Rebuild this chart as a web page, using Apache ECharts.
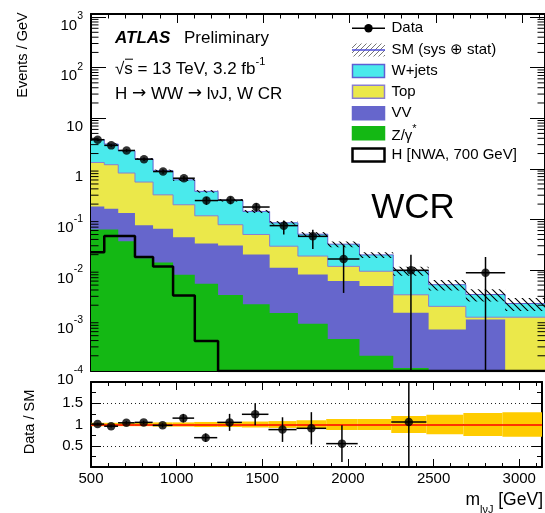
<!DOCTYPE html>
<html><head><meta charset="utf-8">
<script src="https://cdn.jsdelivr.net/npm/echarts@6/dist/echarts.min.js"></script>
<style>html,body{margin:0;padding:0;background:#fff;}#chart{width:545px;height:513px;}</style>
</head><body><div id="chart"></div>
<script>
// ---------------- data ----------------
const binEdges = [500, 577, 658, 755, 860, 976, 1102, 1237, 1381, 1536, 1700, 1873, 2057, 2253, 2458, 2674, 2902, 3160];
const wjets   = [2.41, 1.88, 1.45, 1.01, 0.61, 0.41, 0.24, 0.16, 0.093, 0.056, 0.032, 0.0205, 0.0104, 0.0064, 0.0032, 0.0021, 0.001];
const topq    = [1.15, 1.04, 0.69, 0.47, 0.24, 0.15, 0.084, 0.048, 0.030, 0.0184, 0.0107, 0.0057, 0.0046, 0.0018, 0.00124, 0.00012, 0.00116];
const diboson = [0.117, 0.099, 0.096, 0.059, 0.051, 0.036, 0.028, 0.027, 0.018, 0.0096, 0.0072, 0.0056, 0.0046, 0.0013, 0.00066, 0.00104, 0];
const zjets   = [0.063, 0.063, 0.037, 0.017, 0.014, 0.008, 0.0053, 0.0032, 0.0021, 0.0014, 0.00086, 0.00043, 0.0002, 0.000115, 0, 0, 0];
const signal  = [0.0224, 0.047, 0.047, 0.018, 0.0117, 0.0031, 0.00039, 0, 0, 0, 0, 0, 0, 0, 0, 0, 0];
const smRelErr = [0.04, 0.04, 0.04, 0.04, 0.05, 0.05, 0.06, 0.06, 0.07, 0.08, 0.10, 0.13, 0.13, 0.20, 0.23, 0.27, 0.29];
const dataVals  = [3.75, 2.9, 2.3, 1.55, 0.88, 0.65, 0.235, 0.24, 0.175, 0.075, 0.046, 0.0165, null, 0.0098, null, 0.0088, null];
const dataErrUp = [0.22, 0.19, 0.16, 0.12, 0.087, 0.072, 0.042, 0.041, 0.034, 0.02, 0.016, 0.015, null, 0.0102, null, 0.0092, null];
const dataErrDn = [0.22, 0.19, 0.16, 0.12, 0.087, 0.072, 0.042, 0.041, 0.034, 0.025, 0.020, 0.013, null, 0.0098, null, 0.0088, null];
const ratioVals = [1.01, 0.96, 1.04, 1.05, 0.98, 1.15, 0.69, 1.05, 1.24, 0.88, 0.91, 0.55, null, 1.06, null, null, null];
const ratioErr  = [0.03, 0.03, 0.04, 0.04, 0.05, 0.10, 0.10, 0.20, 0.26, 0.29, 0.38, 0.43, null, 1.2, null, null, null];
const ratioLabels = [0.5, 1, 1.5];
const xLabelStep = 500, xMinorStep = 100;

// ---------------- setup ----------------
const FONT = "'Liberation Sans', Arial, Helvetica, sans-serif";
const X_MIN = 500, X_MAX = 3133, Y_MIN = 1e-4, Y_MAX = 1150, FLOOR = 1e-7;
const C_W = '#4aeaec', C_TOP = '#ebe84a', C_VV = '#6666cc', C_Z = '#14b814', C_EDGE = '#5f5fd4';
const n = binEdges.length - 1;
const cumZ = zjets.slice();
const cumVV = cumZ.map((v, i) => v + diboson[i]);
const cumTop = cumVV.map((v, i) => v + topq[i]);
const cumAll = cumTop.map((v, i) => v + wjets[i]);

function hatchCanvas(dir, color, size, lw) {
  const c = document.createElement('canvas'); c.width = size; c.height = size;
  const g = c.getContext('2d'); g.strokeStyle = color; g.lineWidth = lw; g.beginPath();
  if (dir === 'back') { g.moveTo(-2, -2); g.lineTo(size + 2, size + 2); g.moveTo(size - 2, -2); g.lineTo(size + 2, 2); g.moveTo(-2, size - 2); g.lineTo(2, size + 2); }
  else { g.moveTo(-2, size + 2); g.lineTo(size + 2, -2); g.moveTo(-2, 2); g.lineTo(2, -2); g.moveTo(size - 2, size + 2); g.lineTo(size + 2, size - 2); }
  g.stroke(); return c;
}
const hatchBack = hatchCanvas('back', '#000', 7, 1.1);
const hatchFwd = hatchCanvas('fwd', '#777', 5, 1);

const stepData = vals => { const d = vals.map((v, i) => [binEdges[i], Math.max(v, FLOOR)]); d.push([binEdges[n], Math.max(vals[n - 1], FLOOR)]); return d; };
function layer(name, vals, fill, stroke, lw) {
  return { name, type: 'line', xAxisIndex: 0, yAxisIndex: 0, step: 'end', symbol: 'none', silent: true,
    data: stepData(vals), lineStyle: { color: stroke, width: lw }, areaStyle: { color: fill, opacity: 1, origin: 'start' }, clip: true, z: 2 };
}
function binRect(gi, fillFn) {
  return function (p, api) {
    const a = api.coord([api.value(0), api.value(3)]);
    const b = api.coord([api.value(1), api.value(2)]);
    return { type: 'rect', shape: { x: a[0], y: a[1], width: b[0] - a[0], height: b[1] - a[1] }, style: { fill: fillFn() } };
  };
}
function errBars(lw) {
  return function (p, api) {
    const c = api.value(0), v = api.value(1), lo = api.value(2), hi = api.value(3), yu = api.value(4), yd = api.value(5);
    const pl = api.coord([lo, v]), pr = api.coord([hi, v]), pu = api.coord([c, yu]), pd = api.coord([c, yd]);
    const st = { stroke: '#000', lineWidth: lw };
    return { type: 'group', children: [
      { type: 'line', shape: { x1: pl[0], y1: pl[1], x2: pr[0], y2: pr[1] }, style: st },
      { type: 'line', shape: { x1: pu[0], y1: pu[1], x2: pd[0], y2: pd[1] }, style: st }] };
  };
}
const centers = binEdges.slice(0, n).map((e, i) => (e + binEdges[i + 1]) / 2);
const dataPts = [], dataErr = [], ratioPts = [], ratioErrData = [];
dataVals.forEach((v, i) => {
  if (v == null) return;
  dataPts.push([centers[i], v]);
  dataErr.push([centers[i], v, binEdges[i], Math.min(binEdges[i + 1], X_MAX), v + dataErrUp[i], Math.max(v - dataErrDn[i], FLOOR)]);
});
ratioVals.forEach((v, i) => {
  if (v == null) return;
  ratioPts.push([centers[i], v]);
  ratioErrData.push([centers[i], v, binEdges[i], Math.min(binEdges[i + 1], X_MAX), v + ratioErr[i], v - ratioErr[i]]);
});
// log minor ticks (2..9 x 10^k)
const minorVals = [];
for (let e = -4; e <= 3; e++) for (let k = 2; k <= 9; k++) { const v = k * Math.pow(10, e); if (v < Y_MAX) minorVals.push([X_MIN, v]); }

const tickLine = { lineStyle: { color: '#000', width: 1 } };
function xAx(grid, pos, interval, len, showLine, labels) {
  return { type: 'value', gridIndex: grid, position: pos, min: X_MIN, max: X_MAX, interval,
    axisLine: { show: showLine, onZero: false, lineStyle: { color: '#000', width: 2 } },
    axisTick: Object.assign({ show: true, inside: true, length: len }, tickLine),
    axisLabel: labels ? { show: true, margin: 4, fontSize: 15, fontFamily: FONT, color: '#000',
      formatter: v => (v % xLabelStep === 0 ? String(v) : '') } : { show: false },
    splitLine: { show: false } };
}
const yLogRich = {
  n: { fontSize: 15, fontFamily: FONT, color: '#000', lineHeight: 22, verticalAlign: 'bottom' },
  s: { fontSize: 10.5, fontFamily: FONT, color: '#000', lineHeight: 11, verticalAlign: 'top' }
};
function yLog(pos, labels) {
  return { type: 'log', logBase: 10, gridIndex: 0, position: pos, min: Y_MIN, max: Y_MAX, splitNumber: 7,
    axisLine: { show: true, onZero: false, lineStyle: { color: '#000', width: 2 } },
    axisTick: Object.assign({ show: true, inside: true, length: 15 }, tickLine),
    axisLabel: labels ? { show: true, margin: 8, padding: [10, 0, 0, 0], rich: yLogRich,
      formatter: v => { const l = Math.log10(v), e = Math.round(l); if (Math.abs(l - e) > 0.01) return '';
        if (e === 0) return '{n|1}'; if (e === 1) return '{n|10}'; return '{n|10}{s|' + e + '}'; } } : { show: false },
    splitLine: { show: false } };
}
function yRatio(pos, labels) {
  return { type: 'value', gridIndex: 1, position: pos, min: 0, max: 2, interval: 0.5,
    axisLine: { show: true, onZero: false, lineStyle: { color: '#000', width: 2 } },
    axisTick: Object.assign({ show: true, inside: true, length: 10 }, tickLine),
    minorTick: { show: true, splitNumber: 2, length: 5, lineStyle: { color: '#000', width: 1 } },
    axisLabel: labels ? { show: true, margin: 8, fontSize: 15, fontFamily: FONT, color: '#000',
      formatter: v => (ratioLabels.indexOf(v) >= 0 ? String(v) : '') } : { show: false },
    splitLine: { show: labels, lineStyle: { color: '#222', width: 1, type: [1, 3] } } };
}

const option = {
  animation: false,
  backgroundColor: '#fff',
  grid: [
    { left: 91, top: 14, width: 455, height: 357 },
    { left: 91, top: 382, width: 455, height: 85 }
  ],
  xAxis: [
    xAx(0, 'bottom', xLabelStep, 9, true, false),
    xAx(0, 'bottom', xMinorStep, 4.5, false, false),
    xAx(0, 'top', xLabelStep, 9, true, false),
    xAx(0, 'top', xMinorStep, 4.5, false, false),
    xAx(1, 'bottom', xLabelStep, 8, true, true),
    xAx(1, 'bottom', xMinorStep, 4, false, false),
    xAx(1, 'top', xLabelStep, 8, true, false),
    xAx(1, 'top', xMinorStep, 4, false, false)
  ],
  yAxis: [ yLog('left', true), yLog('right', false), yRatio('left', true), yRatio('right', false) ],
  series: [
    layer('W+jets', cumAll, C_W, C_EDGE, 1),
    layer('Top', cumTop, C_TOP, '#8a7fd0', 1),
    layer('VV', cumVV, C_VV, C_VV, 0),
    layer('Z', cumZ, C_Z, C_Z, 0),
    { name: 'SM unc', type: 'custom', xAxisIndex: 0, yAxisIndex: 0, clip: true, silent: true, z: 3,
      data: cumAll.map((t, i) => [binEdges[i], binEdges[i + 1], t * (1 - smRelErr[i]), t * (1 + smRelErr[i])]),
      renderItem: binRect(0, () => ({ image: hatchBack, repeat: 'repeat' })) },
    { name: 'H', type: 'line', xAxisIndex: 0, yAxisIndex: 0, step: 'end', symbol: 'none', silent: true, clip: true, z: 4,
      data: stepData(signal.map(v => Math.max(v, Y_MIN))), lineStyle: { color: '#000', width: 2.5 } },
    { name: 'yMinorTicks', type: 'custom', xAxisIndex: 0, yAxisIndex: 0, clip: false, silent: true, z: 6,
      data: minorVals,
      renderItem: (p, api) => { const v = api.value(1); const a = api.coord([X_MIN, v]); const b = api.coord([X_MAX, v]);
        const st = { stroke: '#000', lineWidth: 1 };
        return { type: 'group', children: [
          { type: 'line', shape: { x1: a[0], y1: a[1], x2: a[0] + 7.5, y2: a[1] }, style: st },
          { type: 'line', shape: { x1: b[0], y1: b[1], x2: b[0] - 7.5, y2: b[1] }, style: st }] }; } },
    { name: 'DataErr', type: 'custom', xAxisIndex: 0, yAxisIndex: 0, clip: true, silent: true, z: 5,
      data: dataErr, renderItem: errBars(1.5) },
    { name: 'Data', type: 'scatter', xAxisIndex: 0, yAxisIndex: 0, symbol: 'circle', symbolSize: 8.5, silent: true, z: 6,
      itemStyle: { color: '#000' }, data: dataPts },
    // ratio panel
    { name: 'RatioBand', type: 'custom', xAxisIndex: 4, yAxisIndex: 2, clip: true, silent: true, z: 2,
      data: cumAll.map((t, i) => [binEdges[i], binEdges[i + 1], 1 - smRelErr[i], 1 + smRelErr[i]]),
      renderItem: binRect(1, () => '#ffcc00') },
    { name: 'RatioErr', type: 'custom', xAxisIndex: 4, yAxisIndex: 2, clip: true, silent: true, z: 5,
      data: ratioErrData, renderItem: errBars(1.5) },
    { name: 'Ratio', type: 'scatter', xAxisIndex: 4, yAxisIndex: 2, symbol: 'circle', symbolSize: 8.5, silent: true, z: 6,
      itemStyle: { color: '#000' }, data: ratioPts,
      markLine: { silent: true, symbol: ['none', 'none'], label: { show: false }, z: 3,
        lineStyle: { color: '#ff0000', width: 1.5, type: 'solid' }, data: [{ yAxis: 1 }] } }
  ],
  graphic: []
};

function txt(x, y, text, size, extra) {
  return Object.assign({ type: 'text', x, y, silent: true, z: 100,
    style: Object.assign({ text, font: size + 'px ' + FONT, fontSize: size, fontFamily: FONT, fill: '#000',
      align: 'left', textAlign: 'left', verticalAlign: 'middle', textVerticalAlign: 'middle' }, extra || {}) });
}
const G = option.graphic;
G.push(Object.assign(txt(22.5, 55, 'Events / GeV', 14.5, { align: 'center', textAlign: 'center' }), { rotation: Math.PI / 2 }));
G.push(Object.assign(txt(30, 422, 'Data / SM', 14.5, { align: 'center', textAlign: 'center' }), { rotation: Math.PI / 2 }));
G.push(txt(543, 503, '{m|m}{s|lνJ}{m| [GeV]}', 17.5, { align: 'right', textAlign: 'right',
  rich: { m: { fontSize: 17.5, fontFamily: FONT, lineHeight: 24, verticalAlign: 'top' },
          s: { fontSize: 11, fontFamily: FONT, lineHeight: 11, verticalAlign: 'bottom' } } }));
G.push(txt(115, 38.5, 'ATLAS', 17, { fontStyle: 'italic', fontWeight: 'bold', font: 'italic bold 17px ' + FONT }));
G.push(txt(184, 38.5, 'Preliminary', 17));
G.push(txt(115, 67, '{a|√s = 13 TeV, 3.2 fb}{b|-1}', 17, {
  rich: { a: { fontSize: 17, fontFamily: FONT, lineHeight: 22, verticalAlign: 'bottom' },
          b: { fontSize: 11, fontFamily: FONT, lineHeight: 11, verticalAlign: 'top' } } }));
G.push({ type: 'line', silent: true, z: 100, shape: { x1: 125, y1: 59.2, x2: 133, y2: 59.2 }, style: { stroke: '#000', lineWidth: 1 } });
G.push(txt(115, 94, '{t|H }{r|→}{t| WW }{r|→}{t| lνJ, W CR}', 17, {
  rich: { t: { fontSize: 17, fontFamily: FONT, lineHeight: 20 },
          r: { fontSize: 17, fontFamily: "'DejaVu Sans', sans-serif", lineHeight: 20 } } }));
G.push(txt(413, 208, 'WCR', 35, { align: 'center', textAlign: 'center' }));
// legend
const LX = 352, LW = 33, TX = 391.5;
const rows = [28.3, 50, 71, 91.7, 113.3, 133.3, 155];
G.push({ type: 'line', silent: true, z: 100, shape: { x1: LX, y1: rows[0], x2: LX + LW, y2: rows[0] }, style: { stroke: '#000', lineWidth: 1.5 } });
G.push({ type: 'circle', silent: true, z: 101, shape: { cx: LX + LW / 2, cy: rows[0], r: 4.2 }, style: { fill: '#000' } });
G.push({ type: 'rect', silent: true, z: 100, shape: { x: LX, y: rows[1] - 6.5, width: LW, height: 13 }, style: { fill: { image: hatchFwd, repeat: 'repeat' } } });
G.push({ type: 'line', silent: true, z: 101, shape: { x1: LX, y1: rows[1], x2: LX + LW, y2: rows[1] }, style: { stroke: '#4d4dd8', lineWidth: 1.5 } });
const boxes = [[C_W, C_EDGE, 1.5], [C_TOP, '#8a7fd0', 1.5], [C_VV, C_VV, 1.5], [C_Z, C_Z, 1.5], ['#fff', '#000', 2.5]];
boxes.forEach((b, k) => {
  const y = rows[k + 2];
  G.push({ type: 'rect', silent: true, z: 100, shape: { x: LX + 0.5, y: y - 6.5, width: LW - 1, height: 13 }, style: { fill: b[0], stroke: b[1], lineWidth: b[2] } });
});
const legendTexts = ['Data', 'SM (sys ⊕ stat)', 'W+jets', 'Top', 'VV'];
legendTexts.forEach((t, k) => G.push(txt(TX, rows[k], t, 15)));
G.push(txt(TX, rows[5], '{a|Z/γ}{b|*}', 15, { rich: { a: { fontSize: 15, fontFamily: FONT, lineHeight: 20, verticalAlign: 'bottom' }, b: { fontSize: 11, fontFamily: FONT, lineHeight: 11, verticalAlign: 'top' } } }));
G.push(txt(TX, rows[6], 'H [NWA, 700 GeV]', 15));

const chart = echarts.init(document.getElementById('chart'), null, { renderer: 'canvas' });
chart.setOption(option);
</script>
</body></html>
